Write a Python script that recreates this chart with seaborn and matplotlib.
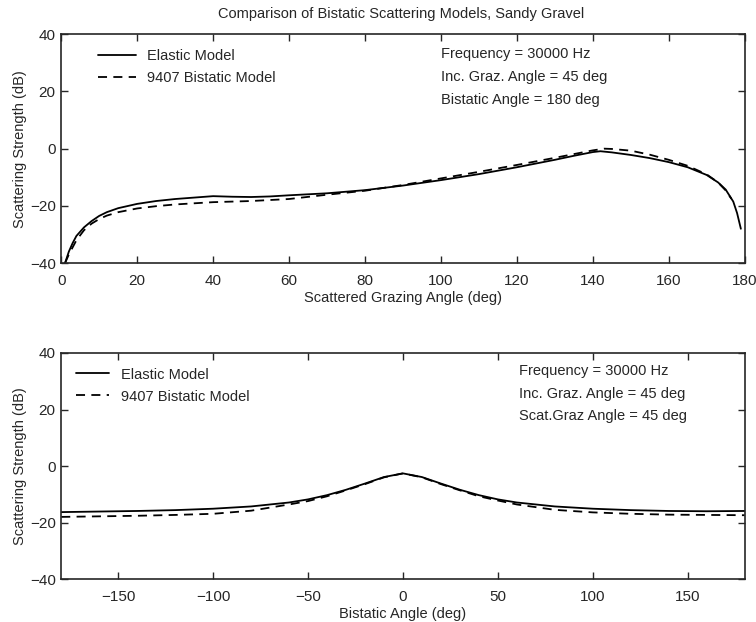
import matplotlib
matplotlib.use("Agg")
import matplotlib.pyplot as plt
import pandas as pd
import seaborn as sns

# Scattering strength vs scattered grazing angle (bistatic angle = 180 deg)
graze_elastic = [1, 2, 3, 4, 6, 8, 10, 12, 15, 20, 25, 30, 35, 40, 45, 50, 55, 60,
                 70, 80, 90, 100, 110, 120, 130, 135, 140, 142, 145, 150, 155, 160,
                 165, 170, 173, 175, 177, 178, 179]
ss_elastic_graze = [-40, -36, -33, -30.5, -27.5, -25.3, -23.5, -22.2, -20.8, -19.3,
                    -18.3, -17.6, -17.1, -16.6, -16.8, -16.9, -16.7, -16.3, -15.6,
                    -14.5, -12.9, -11.0, -8.9, -6.5, -3.9, -2.5, -1.2, -0.9, -1.3,
                    -2.2, -3.3, -4.7, -6.5, -9.2, -11.8, -14.3, -18.5, -22.5, -28]

graze_9407 = [1, 2, 3, 4, 6, 8, 10, 12, 15, 20, 25, 30, 40, 50, 60, 70, 80, 90, 100,
              110, 120, 130, 140, 143, 145, 150, 155, 160, 165, 170, 173, 175, 176.5]
ss_9407_graze = [-40, -37, -34.5, -32, -28.5, -26.2, -24.6, -23.4, -22.2, -20.9,
                 -20.1, -19.5, -18.7, -18.3, -17.6, -16.1, -14.7, -12.7, -10.4, -8.1,
                 -5.7, -3.2, -0.6, 0, -0.1, -0.7, -2.1, -3.9, -6.0, -9.0, -11.8,
                 -14.6, -17.5]

# Scattering strength vs bistatic angle (scattered grazing angle = 45 deg)
bistatic = [-180, -160, -140, -120, -100, -80, -60, -50, -40, -30, -20, -10, 0,
            10, 20, 30, 40, 50, 60, 80, 100, 120, 140, 160, 180]
ss_elastic_bi = [-16.3, -16.1, -15.9, -15.6, -15.1, -14.3, -12.9, -11.8, -10.3, -8.4,
                 -6.2, -3.9, -2.6, -3.9, -6.2, -8.4, -10.3, -11.8, -12.9, -14.3,
                 -15.1, -15.6, -15.9, -16.0, -15.9]
ss_9407_bi = [-18.0, -17.8, -17.6, -17.3, -16.9, -15.8, -13.6, -12.4, -10.7, -8.6,
              -6.4, -4.0, -2.6, -4.0, -6.4, -8.6, -10.7, -12.2, -13.6, -15.5,
              -16.4, -16.9, -17.2, -17.3, -17.4]

labels = ["Elastic Model", "9407 Bistatic Model"]
top_notes = ["Frequency = 30000 Hz", "Inc. Graz. Angle = 45 deg", "Bistatic Angle = 180 deg"]
bottom_notes = ["Frequency = 30000 Hz", "Inc. Graz. Angle = 45 deg", "Scat.Graz Angle = 45 deg"]

sns.set_style("ticks")
plt.rcParams["font.family"] = ["Liberation Sans", "DejaVu Sans"]
plt.rcParams["font.size"] = 10.5

fig = plt.figure(figsize=(7.56, 6.22), dpi=100)
ax1 = fig.add_axes([0.081, 0.577, 0.904, 0.368])
ax2 = fig.add_axes([0.081, 0.069, 0.904, 0.3635])

df_top = pd.concat([
    pd.DataFrame({"x": graze_elastic, "y": ss_elastic_graze, "model": labels[0]}),
    pd.DataFrame({"x": graze_9407, "y": ss_9407_graze, "model": labels[1]}),
])
df_bot = pd.concat([
    pd.DataFrame({"x": bistatic, "y": ss_elastic_bi, "model": labels[0]}),
    pd.DataFrame({"x": bistatic, "y": ss_9407_bi, "model": labels[1]}),
])

legend_opts = {ax1: dict(anchor_x=0.032, handlelength=2.6),
               ax2: dict(anchor_x=0.0, handlelength=2.3)}

for ax, df in ((ax1, df_top), (ax2, df_bot)):
    sns.lineplot(data=df, x="x", y="y", style="model", style_order=labels,
                 dashes={labels[0]: "", labels[1]: (5, 3.5)},
                 color="black", linewidth=1.3, ax=ax, sort=False, estimator=None)
    ax.set_ylim(-40, 40)
    ax.set_yticks([-40, -20, 0, 20, 40])
    ax.set_ylabel("Scattering Strength (dB)", fontsize=10.5, labelpad=2)
    ax.tick_params(axis="x", direction="in", top=True, length=5, width=1,
                   labelsize=11, pad=8)
    ax.tick_params(axis="y", direction="in", right=True, length=5, width=1,
                   labelsize=11, pad=4)
    for s in ax.spines.values():
        s.set_linewidth(1.2)
    opts = legend_opts[ax]
    ax.legend(loc="upper left", frameon=False, fontsize=10.5,
              handlelength=opts["handlelength"], labelspacing=0.55,
              borderaxespad=0.6, bbox_to_anchor=(opts["anchor_x"], 1.0))

ax1.set_xlim(0, 180)
ax1.set_xticks(range(0, 181, 20))
ax1.set_xlabel("Scattered Grazing Angle (deg)", fontsize=10.5, labelpad=2)

ax2.set_xlim(-180, 180)
ax2.set_xticks(range(-150, 151, 50))
ax2.set_xlabel("Bistatic Angle (deg)", fontsize=10.5, labelpad=2)

for i, t in enumerate(top_notes):
    ax1.text(0.556, 0.913 - i * 0.1, t, transform=ax1.transAxes,
             fontsize=10.5, va="center", ha="left")
for i, t in enumerate(bottom_notes):
    ax2.text(0.67, 0.92 - i * 0.1, t, transform=ax2.transAxes,
             fontsize=10.5, va="center", ha="left")

fig.text(0.53, 0.978, "Comparison of Bistatic Scattering Models, Sandy Gravel",
         ha="center", va="center", fontsize=10.5)

fig.savefig("out.png", dpi=100)
